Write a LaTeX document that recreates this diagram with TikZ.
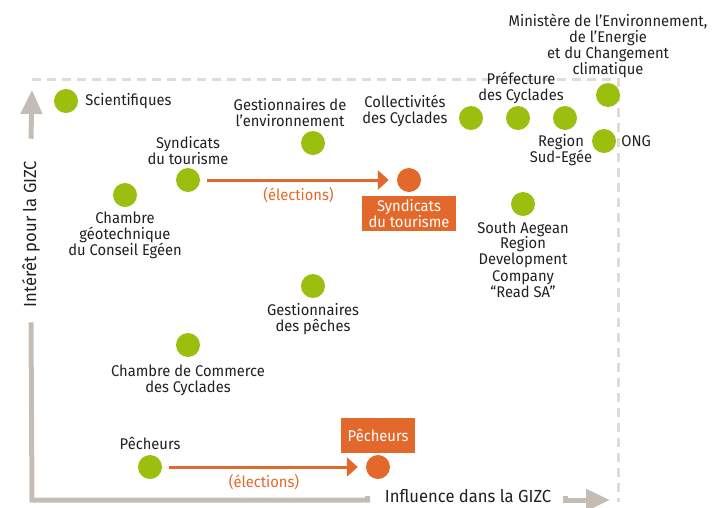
\documentclass[tikz,border=0pt]{standalone}
\usepackage{fontspec}
\setmainfont{Fira Sans}[FakeStretch=0.95]
\usepackage{tikz}
\usetikzlibrary{positioning,arrows.meta}

\definecolor{verde}{RGB}{155,190,15}
\definecolor{naranja}{RGB}{226,104,44}
\definecolor{gris}{RGB}{197,189,181}
\definecolor{grisclaro}{RGB}{224,221,216}
\definecolor{tinta}{RGB}{35,31,32}

\begin{document}
\begin{tikzpicture}[x=1pt, y=-1pt, font=\fontsize{15.5}{16}\selectfont]

% Set the overall canvas
\useasboundingbox (0,0) rectangle (713,507);

% Define styles for actors, labels and arrows
\tikzstyle{actor} = [circle, fill=verde, minimum size=24pt, inner sep=0pt]
\tikzstyle{elu} = [circle, fill=naranja, minimum size=24pt, inner sep=0pt]
\tikzstyle{etiq} = [align=center, text=tinta, inner sep=0pt]
\tikzstyle{caja} = [rectangle, fill=naranja, text=white, align=center, minimum height=35pt, inner xsep=7pt, inner ysep=2pt]
\tikzstyle{eleccion} = [draw=naranja, line width=3pt, -{Triangle[length=11pt,width=19pt]}, shorten <=7pt, shorten >=8pt]
\tikzstyle{eje} = [draw=gris, line width=5pt]
\tikzstyle{ejeflecha} = [eje, -{Triangle[length=24pt,width=21pt]}]
\tikzstyle{marco} = [draw=grisclaro, line width=3pt, dash pattern=on 9pt off 6pt]

% Dashed frame
\coordinate (fa) at (32,79);
\coordinate (fb) at (618,79);
\coordinate (fc) at (618,502);
\draw[marco] (fa) -- (fb) -- (fc);

% Axes
\coordinate (orig) at (32,500);
\coordinate (ytip) at (32,90);
\coordinate (xtip) at (610,500);
\node[etiq, rotate=90, font=\fontsize{17.5}{18}\selectfont] (ylab) at (31,234) {Intérêt pour la GIZC};
\node[etiq, font=\fontsize{17.5}{18}\selectfont] (xlab) at (468,496) {Influence dans la GIZC};
\draw[eje] ([xshift=-17pt]xlab.west) |- (orig) -- ([yshift=-15pt]ylab.west);
\draw[ejeflecha] ([yshift=22pt]ylab.east) -- (ytip);
\draw[ejeflecha] ([xshift=14pt]xlab.east) |- (xtip);

% Actors
\node[actor] (sci) at (66,101) {};
\node[etiq, right=7pt of sci] (scitxt) {Scientifiques};

\node[actor] (env) at (313,143) {};
\node[etiq, above=4pt of env, xshift=-23pt] (envtxt) {Gestionnaires de\\l’environnement};

\node[actor] (syn) at (188,180) {};
\node[etiq, above=3pt of syn] (syntxt) {Syndicats\\du tourisme};

\node[actor] (geo) at (125,195) {};
\node[etiq, below=4pt of geo] (geotxt) {Chambre\\géotechnique\\du Conseil Egéen};

\node[actor] (col) at (471,118) {};
\node[actor] (pre) at (518,118) {};
\node[actor] (reg) at (565,118) {};
\node[etiq, left=11pt of col, yshift=7pt] (coltxt) {Collectivités\\des Cyclades};
\node[etiq, above=2pt of pre, xshift=3pt] (pretxt) {Préfecture\\des Cyclades};
\node[etiq, below=4pt of reg, xshift=-4pt] (regtxt) {Region\\Sud-Egée};

\node[actor] (min) at (608,95) {};
\node[etiq, above=5pt of min] (mintxt) {Ministère de l’Environnement,\\de l’Energie\\et du Changement\\climatique};

\node[actor] (ong) at (604,141) {};
\node[etiq, right=5pt of ong] (ongtxt) {ONG};

\node[actor] (sae) at (523,204) {};
\node[etiq, below=5pt of sae] (saetxt) {South Aegean\\Region\\Development\\Company\\“Read SA”};

\node[actor] (pge) at (313,286) {};
\node[etiq, below=5pt of pge] (pgetxt) {Gestionnaires\\des pêches};

\node[actor] (ccc) at (188,345) {};
\node[etiq, below=7pt of ccc] (ccctxt) {Chambre de Commerce\\des Cyclades};

\node[actor] (pec) at (150,467) {};
\node[etiq, above=5pt of pec] (pectxt) {Pêcheurs};

% Elected counterparts
\node[elu] (synO) at (409,180) {};
\node[caja, below=4pt of synO] (synbox) {Syndicats\\du tourisme};

\node[elu] (pecO) at (378,467) {};
\node[caja, above=2pt of pecO] (pecbox) {Pêcheurs};

\draw[eleccion] (syn) -- (synO) node[midway, below=3pt, text=naranja] {(élections)};
\draw[eleccion] (pec) -- (pecO) node[midway, below=3pt, text=naranja] {(élections)};

\end{tikzpicture}
\end{document}
